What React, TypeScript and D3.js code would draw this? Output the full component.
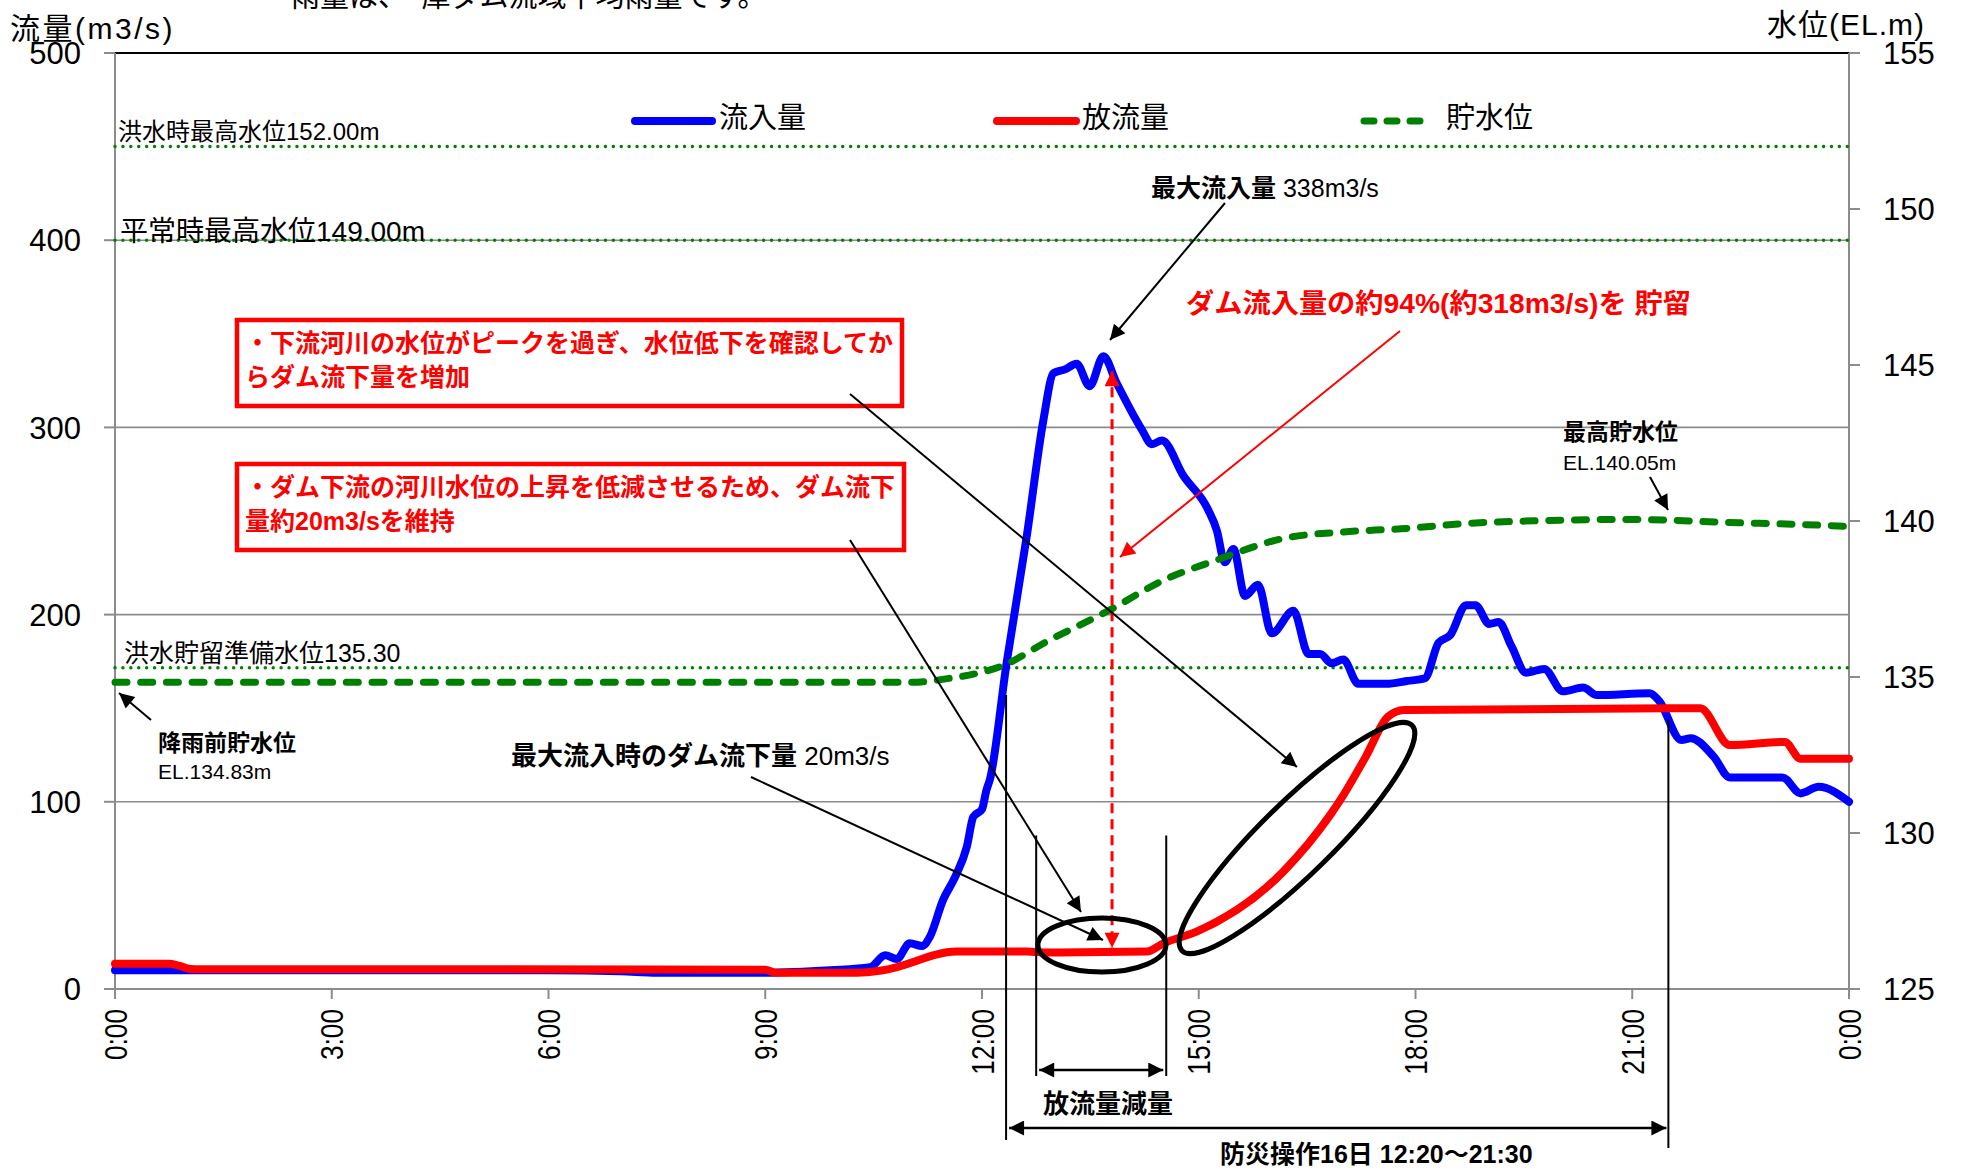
import React from "react";
import * as d3 from "d3";

// ---- data ----
const inflowHours = [0, 1.0, 3.0, 6.0, 7.0, 7.5, 9.0, 9.9, 10.45, 10.66, 10.82, 11.0, 11.17, 11.28, 11.46, 11.63, 11.79, 11.88, 12.0, 12.06, 12.11, 12.34, 12.62, 12.85, 12.99, 13.15, 13.31, 13.49, 13.68, 13.86, 14.21, 14.35, 14.49, 14.79, 15.13, 15.25, 15.36, 15.48, 15.64, 15.82, 16.01, 16.31, 16.52, 16.68, 16.84, 17.0, 17.21, 17.6, 17.88, 18.13, 18.32, 18.48, 18.7, 18.83, 19.02, 19.15, 19.33, 19.53, 19.78, 20.04, 20.32, 20.51, 21.24, 21.37, 21.68, 21.81, 22.13, 22.35, 23.08, 23.33, 23.58, 24.0];
const inflowValues = [10, 10, 10, 10, 9.5, 8.7, 8.7, 10, 11.6, 18, 16, 24.4, 23, 28, 47.5, 60, 76, 92, 96, 106, 112, 174, 242, 304, 329, 331, 334, 322, 338, 324, 299, 291, 293, 274, 256, 245, 228, 235, 210, 216, 190, 202, 179, 179, 174, 176, 163, 163, 164.5, 166, 185, 189, 205, 205, 195, 196, 183, 169, 171, 159, 161, 157, 158, 154, 133, 134, 124, 113, 113, 104.5, 108, 100];

const outflowHours = [0, 0.75, 0.88, 1.04, 1.2, 5.0, 9.0, 9.15, 10.27, 10.63, 11.65, 12.62, 12.85, 14.28, 14.51, 14.97, 16.17, 16.82, 16.96, 17.31, 17.62, 17.84, 21.94, 22.35, 23.11, 23.33, 24.0];
const outflowValues = [13.5, 13.5, 12.5, 10.7, 10.5, 10.5, 10.3, 8.7, 8.7, 10, 20, 20, 19.5, 20, 24.4, 30.6, 62.7, 93, 101, 124, 145.5, 149, 150, 130.3, 132, 123, 123];

const levelHours = [0, 6, 11.0, 11.56, 11.9, 12.25, 12.94, 13.77, 14.51, 15.25, 16.17, 17.0, 17.8, 18.77, 19.72, 21.0, 22.25, 23.84, 24.0];
const levelValues = [134.83, 134.83, 134.83, 134.96, 135.1, 135.33, 136.19, 137.15, 138.1, 138.75, 139.44, 139.65, 139.75, 139.93, 140.01, 140.05, 139.96, 139.84, 139.82];

const xTickHours = [0, 3, 6, 9, 12, 15, 18, 21, 24];
const xTickLabels = ["0:00", "3:00", "6:00", "9:00", "12:00", "15:00", "18:00", "21:00", "0:00"];
const leftTicks = [0, 100, 200, 300, 400, 500];
const rightTicks = [125, 130, 135, 140, 145, 150, 155];

const refLevels = [152.0, 149.0, 135.3];
const refLabels = ["洪水時最高水位152.00m", "平常時最高水位149.00m", "洪水貯留準備水位135.30"];

const legendLabels = ["流入量", "放流量", "貯水位"];

// ---- layout ----
const W = 1963;
const H = 1174;
const L = 115;
const R = 1849;
const T = 53;
const B = 989;

const FONT = "'Liberation Sans', Arial, 'Noto Sans CJK JP', sans-serif";
const BLUE = "#0000ff";
const RED = "#ff0000";
const GREEN = "#008000";
const GRID = "#8c8c8c";

export default function App() {
  const x = d3.scaleLinear().domain([0, 24]).range([L, R]);
  const yL = d3.scaleLinear().domain([0, 500]).range([B, T]);
  const yR = d3.scaleLinear().domain([125, 155]).range([B, T]);

  const zip = (a: number[], b: number[]) => a.map((h, i) => [h, b[i]] as [number, number]);

  const flowLine = d3
    .line<[number, number]>()
    .x((d) => x(d[0]))
    .y((d) => yL(d[1]))
    .curve(d3.curveMonotoneX);
  const levelLine = d3
    .line<[number, number]>()
    .x((d) => x(d[0]))
    .y((d) => yR(d[1]))
    .curve(d3.curveMonotoneX);

  const inflowPath = flowLine(zip(inflowHours, inflowValues)) || "";
  const outflowPath = flowLine(zip(outflowHours, outflowValues)) || "";
  const levelPath = levelLine(zip(levelHours, levelValues)) || "";

  const refFont = [24, 28, 25];
  const refX = [118, 120, 124];
  const refDy = [-7, 1, -6];

  const t1220 = 12 + 20 / 60;
  const t2130 = 21.5;
  const tCutA = 12.75;
  const tCutB = 14.55;

  return (
    <svg
      width={W}
      height={H}
      viewBox={`0 0 ${W} ${H}`}
      style={{ position: "absolute", left: 0, top: 0, background: "#fff" }}
      fontFamily={FONT}
    >
      <defs>
        <marker id="arrB" viewBox="0 0 10 10" refX="10" refY="5" markerWidth="19" markerHeight="15" markerUnits="userSpaceOnUse" orient="auto-start-reverse">
          <path d="M0,0 L10,5 L0,10 z" fill="#000" />
        </marker>
        <marker id="arrR" viewBox="0 0 10 10" refX="10" refY="5" markerWidth="19" markerHeight="15" markerUnits="userSpaceOnUse" orient="auto-start-reverse">
          <path d="M0,0 L10,5 L0,10 z" fill={RED} />
        </marker>
      </defs>
      <rect x={0} y={0} width={W} height={H} fill="#fff" />

      {/* cut-off header text */}
      <text x={291} y={7} fontSize={29} fill="#000">雨量は、　庫ダム流域平均雨量です。</text>

      {/* gridlines */}
      {leftTicks.slice(1, 5).map((v) => (
        <line key={"g" + v} x1={L} x2={R} y1={yL(v)} y2={yL(v)} stroke={GRID} strokeWidth={1.6} />
      ))}
      {/* top border */}
      <line x1={L} x2={R} y1={T} y2={T} stroke="#000" strokeWidth={2.2} />
      {/* axes */}
      <line x1={L} x2={L} y1={T} y2={B} stroke={GRID} strokeWidth={2} />
      <line x1={R} x2={R} y1={T} y2={B} stroke={GRID} strokeWidth={2} />
      <line x1={L - 11} x2={R + 11} y1={B} y2={B} stroke={GRID} strokeWidth={2} />
      {leftTicks.map((v) => (
        <g key={"lt" + v}>
          <line x1={L - 11} x2={L} y1={yL(v)} y2={yL(v)} stroke={GRID} strokeWidth={2} />
          <text x={81} y={yL(v)} dy="0.36em" textAnchor="end" fontSize={31} fill="#000">{v}</text>
        </g>
      ))}
      {rightTicks.map((v) => (
        <g key={"rt" + v}>
          <line x1={R} x2={R + 11} y1={yR(v)} y2={yR(v)} stroke={GRID} strokeWidth={2} />
          <text x={1883} y={yR(v)} dy="0.36em" textAnchor="start" fontSize={31} fill="#000">{v}</text>
        </g>
      ))}
      {xTickHours.map((h, i) => (
        <g key={"xt" + i}>
          <line x1={x(h)} x2={x(h)} y1={B} y2={B + 10} stroke={GRID} strokeWidth={2} />
          <text
            transform={`translate(${x(h)},1009) rotate(-90) scale(0.82,1)`}
            dy="0.36em"
            textAnchor="end"
            fontSize={32}
            fill="#000"
          >
            {xTickLabels[i]}
          </text>
        </g>
      ))}

      {/* axis titles */}
      <text x={10} y={39} fontSize={30} letterSpacing={2.5} fill="#000">流量(m3/s)</text>
      <text x={1767} y={35} fontSize={30} letterSpacing={1} fill="#000">水位(EL.m)</text>

      {/* reference levels */}
      {refLevels.map((lv, i) => (
        <g key={"ref" + i}>
          <line x1={L} x2={R} y1={yR(lv)} y2={yR(lv)} stroke={GREEN} strokeWidth={3.5} strokeDasharray="0.01 7.9" strokeLinecap="round" />
          <text x={refX[i]} y={yR(lv) + refDy[i]} fontSize={refFont[i]} fill="#000">{refLabels[i]}</text>
        </g>
      ))}

      {/* legend */}
      <line x1={635} x2={712} y1={121} y2={121} stroke={BLUE} strokeWidth={8} strokeLinecap="round" />
      <text x={719} y={128} fontSize={29} fill="#000">{legendLabels[0]}</text>
      <line x1={997} x2={1076} y1={121} y2={121} stroke={RED} strokeWidth={8} strokeLinecap="round" />
      <text x={1082} y={128} fontSize={29} fill="#000">{legendLabels[1]}</text>
      <line x1={1364} x2={1428} y1={121} y2={121} stroke={GREEN} strokeWidth={7} strokeDasharray="10 13" strokeLinecap="round" />
      <text x={1446} y={128} fontSize={29} fill="#000">{legendLabels[2]}</text>

      {/* series */}
      <path d={inflowPath} fill="none" stroke={BLUE} strokeWidth={8} strokeLinejoin="round" strokeLinecap="round" />
      <path d={outflowPath} fill="none" stroke={RED} strokeWidth={8} strokeLinejoin="round" strokeLinecap="round" />
      <path d={levelPath} fill="none" stroke={GREEN} strokeWidth={7} strokeDasharray="12 13.7" strokeLinecap="round" />

      {/* red boxes */}
      <rect x={237} y={320} width={665} height={86} fill="#fff" stroke={RED} strokeWidth={4.5} />
      <text x={245} y={352} fontSize={25} fontWeight="bold" fill={RED}>・下流河川の水位がピークを過ぎ、水位低下を確認してか</text>
      <text x={245} y={386} fontSize={25} fontWeight="bold" fill={RED}>らダム流下量を増加</text>
      <rect x={237} y={464} width={667} height={86} fill="#fff" stroke={RED} strokeWidth={4.5} />
      <text x={245} y={496} fontSize={25} fontWeight="bold" fill={RED}>・ダム下流の河川水位の上昇を低減させるため、ダム流下</text>
      <text x={245} y={530} fontSize={25} fontWeight="bold" fill={RED}>量約20m3/sを維持</text>

      {/* red storage annotation */}
      <text x={1186} y={313} fontSize={27} fontWeight="bold" fill={RED} textLength={505} lengthAdjust="spacingAndGlyphs">ダム流入量の約94%(約318m3/s)を 貯留</text>
      <line x1={1400} y1={331} x2={1120} y2={557} stroke={RED} strokeWidth={2} markerEnd="url(#arrR)" />
      <line x1={x(13.8)} x2={x(13.8)} y1={yL(330)} y2={yL(22)} stroke={RED} strokeWidth={3} strokeDasharray="10 6" markerStart="url(#arrR)" markerEnd="url(#arrR)" />

      {/* black annotations */}
      <text x={1151} y={197} fontSize={25} fill="#000">
        <tspan fontWeight="bold">最大流入量</tspan>
        <tspan> 338m3/s</tspan>
      </text>
      <line x1={1225} y1={203} x2={1110} y2={340} stroke="#000" strokeWidth={2} markerEnd="url(#arrB)" />

      <line x1={850} y1={394} x2={1297} y2={767} stroke="#000" strokeWidth={2} markerEnd="url(#arrB)" />
      <line x1={850} y1={540} x2={1081} y2={912} stroke="#000" strokeWidth={2} markerEnd="url(#arrB)" />

      <text x={511} y={765} fontSize={26} fill="#000">
        <tspan fontWeight="bold">最大流入時のダム流下量</tspan>
        <tspan> 20m3/s</tspan>
      </text>
      <line x1={751} y1={777} x2={1103} y2={940} stroke="#000" strokeWidth={2} markerEnd="url(#arrB)" />

      <text x={158} y={751} fontSize={23} fontWeight="bold" fill="#000">降雨前貯水位</text>
      <text x={158} y={779} fontSize={21} fill="#000">EL.134.83m</text>
      <line x1={151} y1={720} x2={119} y2={693} stroke="#000" strokeWidth={2} markerEnd="url(#arrB)" />

      <text x={1563} y={440} fontSize={23} fontWeight="bold" fill="#000">最高貯水位</text>
      <text x={1563} y={470} fontSize={21} fill="#000">EL.140.05m</text>
      <line x1={1650} y1={477} x2={1668} y2={510} stroke="#000" strokeWidth={2} markerEnd="url(#arrB)" />

      {/* ellipses */}
      <ellipse cx={x(13.66)} cy={yL(23.5)} rx={64} ry={27} fill="none" stroke="#000" strokeWidth={5} />
      <ellipse cx={1297} cy={838} rx={161} ry={36} fill="none" stroke="#000" strokeWidth={5} transform="rotate(-44.4 1297 838)" />

      {/* operation period lines */}
      <line x1={x(t1220)} x2={x(t1220)} y1={yL(157)} y2={1140} stroke="#000" strokeWidth={2} />
      <line x1={x(t2130)} x2={x(t2130)} y1={yL(144)} y2={1148} stroke="#000" strokeWidth={2} />
      <line x1={x(tCutA)} x2={x(tCutA)} y1={yL(82)} y2={1076} stroke="#000" strokeWidth={2} />
      <line x1={x(tCutB)} x2={x(tCutB)} y1={yL(82)} y2={1076} stroke="#000" strokeWidth={2} />
      <line x1={x(tCutA) + 3} x2={x(tCutB) - 3} y1={1070} y2={1070} stroke="#000" strokeWidth={2.5} markerStart="url(#arrB)" markerEnd="url(#arrB)" />
      <line x1={x(t1220) + 3} x2={x(t2130) - 2} y1={1128} y2={1128} stroke="#000" strokeWidth={2.5} markerStart="url(#arrB)" markerEnd="url(#arrB)" />
      <text x={1043} y={1113} fontSize={26} fontWeight="bold" fill="#000">放流量減量</text>
      <text x={1220} y={1163} fontSize={25} fontWeight="bold" fill="#000">防災操作16日 12:20～21:30</text>
    </svg>
  );
}
